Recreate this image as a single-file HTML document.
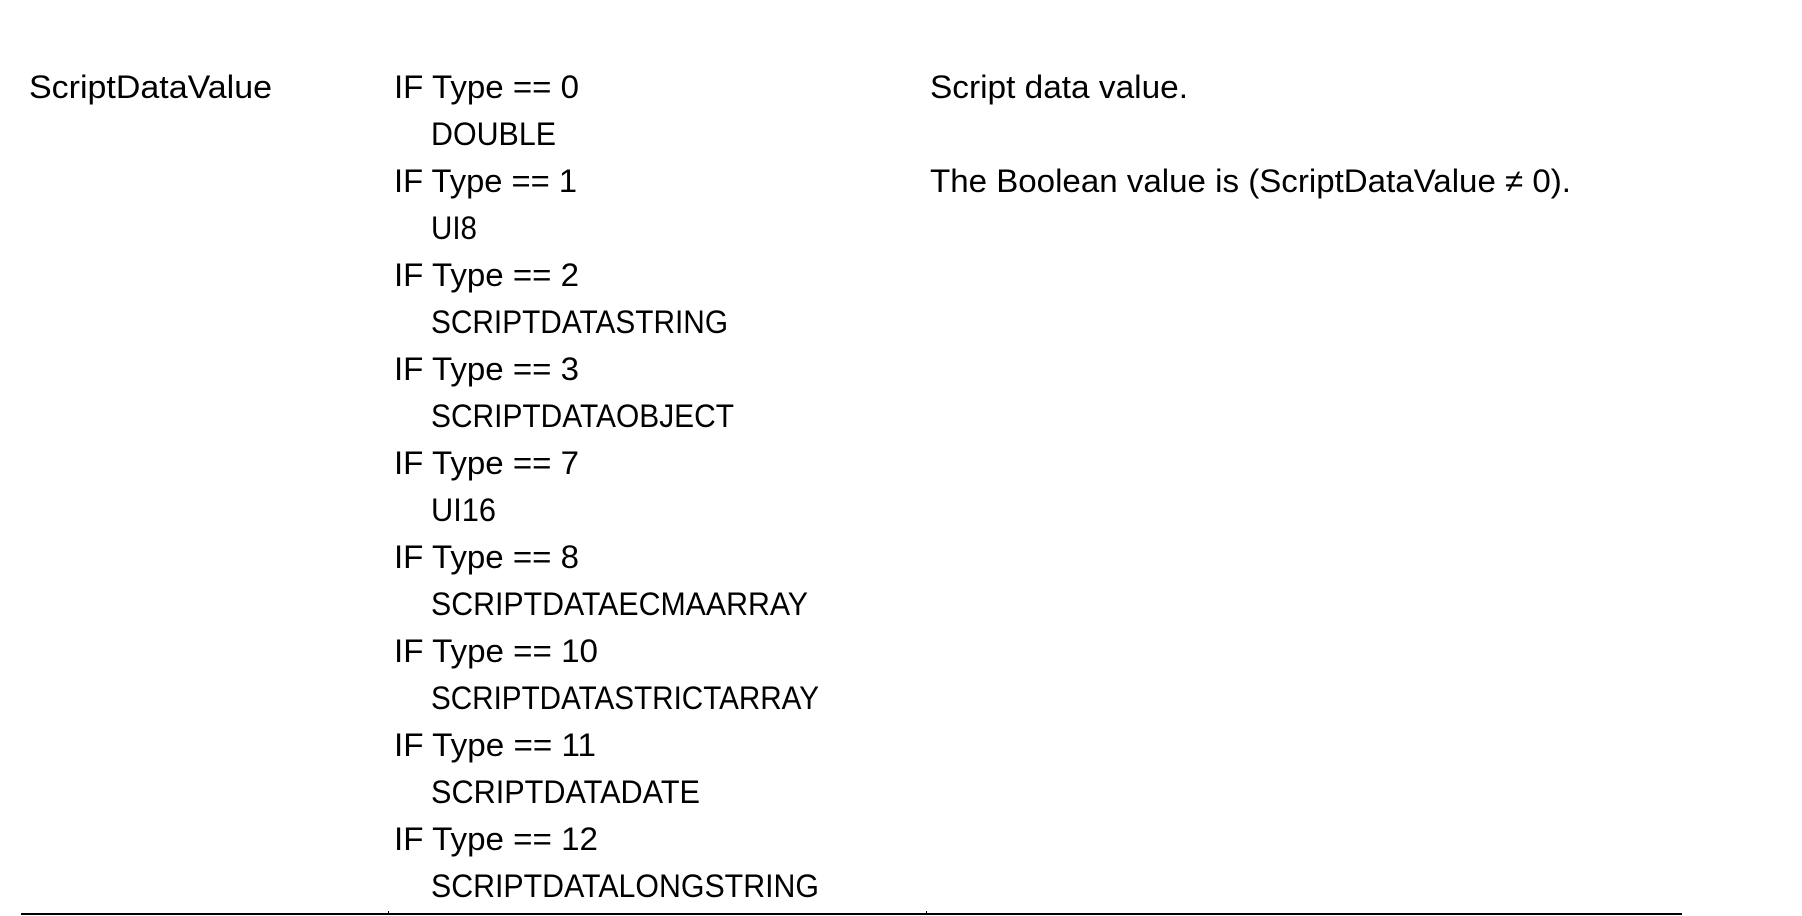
<!DOCTYPE html>
<html><head><meta charset="utf-8"><style>
html,body{margin:0;padding:0;background:#fff;}
svg{display:block;}
text{font-family:"Liberation Sans",sans-serif;font-size:32px;fill:#000;}
</style></head><body>
<svg width="1802" height="916" xmlns="http://www.w3.org/2000/svg">
<text x="29" y="98" textLength="243" lengthAdjust="spacingAndGlyphs">ScriptDataValue</text>
<text x="930" y="98" textLength="258" lengthAdjust="spacingAndGlyphs">Script data value.</text>
<text x="930" y="192" textLength="641" lengthAdjust="spacingAndGlyphs">The Boolean value is (ScriptDataValue ≠ 0).</text>
<text x="394" y="98" textLength="185" lengthAdjust="spacingAndGlyphs">IF Type == 0</text>
<text x="431" y="145" textLength="125" lengthAdjust="spacingAndGlyphs">DOUBLE</text>
<text x="394" y="192" textLength="183" lengthAdjust="spacingAndGlyphs">IF Type == 1</text>
<text x="431" y="239" textLength="46" lengthAdjust="spacingAndGlyphs">UI8</text>
<text x="394" y="286" textLength="185" lengthAdjust="spacingAndGlyphs">IF Type == 2</text>
<text x="431" y="333" textLength="297" lengthAdjust="spacingAndGlyphs">SCRIPTDATASTRING</text>
<text x="394" y="380" textLength="185" lengthAdjust="spacingAndGlyphs">IF Type == 3</text>
<text x="431" y="427" textLength="303" lengthAdjust="spacingAndGlyphs">SCRIPTDATAOBJECT</text>
<text x="394" y="474" textLength="185" lengthAdjust="spacingAndGlyphs">IF Type == 7</text>
<text x="431" y="521" textLength="65" lengthAdjust="spacingAndGlyphs">UI16</text>
<text x="394" y="568" textLength="185" lengthAdjust="spacingAndGlyphs">IF Type == 8</text>
<text x="431" y="615" textLength="377" lengthAdjust="spacingAndGlyphs">SCRIPTDATAECMAARRAY</text>
<text x="394" y="662" textLength="204" lengthAdjust="spacingAndGlyphs">IF Type == 10</text>
<text x="431" y="709" textLength="388" lengthAdjust="spacingAndGlyphs">SCRIPTDATASTRICTARRAY</text>
<text x="394" y="756" textLength="202" lengthAdjust="spacingAndGlyphs">IF Type == 11</text>
<text x="431" y="803" textLength="269" lengthAdjust="spacingAndGlyphs">SCRIPTDATADATE</text>
<text x="394" y="850" textLength="204" lengthAdjust="spacingAndGlyphs">IF Type == 12</text>
<text x="431" y="897" textLength="388" lengthAdjust="spacingAndGlyphs">SCRIPTDATALONGSTRING</text>
<rect x="21" y="913" width="1661" height="2" fill="#000"/>
<rect x="388" y="911" width="1" height="3" fill="#000"/>
<rect x="926" y="911" width="1" height="3" fill="#000"/>
</svg>
</body></html>
